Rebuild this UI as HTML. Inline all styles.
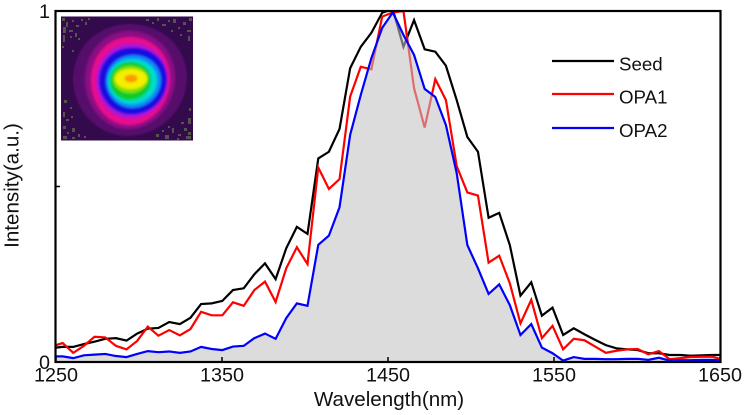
<!DOCTYPE html>
<html>
<head>
<meta charset="utf-8">
<title>Spectrum chart</title>
<style>
html,body{margin:0;padding:0;background:#fff;}
#wrap{position:relative;width:744px;height:415px;overflow:hidden;background:#fff;}
svg{position:absolute;left:0;top:0;}
text{font-family:"Liberation Sans",Arial,sans-serif;fill:#111;}
</style>
</head>
<body>
<div id="wrap">
<svg id="chart" width="744" height="415" viewBox="0 0 744 415">
<defs>
<clipPath id="plot-clip"><rect x="56" y="11" width="664" height="351"/></clipPath>
<filter id="soft" x="-10%" y="-10%" width="120%" height="120%"><feGaussianBlur stdDeviation="1"/></filter>
<clipPath id="inset-clip"><rect x="61" y="16.5" width="132" height="124"/></clipPath>
<path id="blob" d="M0 -1 C.55 -1 1 -.6 1 -.05 C1 .5 .55 1 -.05 1 C-.6 1 -1 .5 -1 0 C-1 -.6 -.55 -1 0 -1Z"/>
</defs>
<g id="series-under" clip-path="url(#plot-clip)"></g>
<g id="series-over" clip-path="url(#plot-clip)"></g>
<g id="inset" clip-path="url(#inset-clip)">
<rect x="61" y="16.5" width="132" height="124" fill="#330a4c"/>
<g filter="url(#soft)">
<use href="#blob" transform="translate(130 80) scale(57 56)" fill="#560a6c"/>
<use href="#blob" transform="translate(130 80) scale(45 49)" fill="#8c0c84"/>
<use href="#blob" transform="translate(130.5 81) scale(39.5 44)" fill="#e8108e"/>
<use href="#blob" transform="translate(132 81) scale(36 37.5)" fill="#a812d8"/>
<use href="#blob" transform="translate(133 81) scale(34 33.5)" fill="#1410e0"/>
<use href="#blob" transform="translate(133.5 81.5) scale(27.5 26.5)" fill="#0a8cf8"/>
<use href="#blob" transform="translate(132.5 81.5) scale(24.5 22.5)" fill="#06dcc8"/>
<use href="#blob" transform="translate(130.5 81) scale(20.5 19)" fill="#08cc2c"/>
<use href="#blob" transform="translate(130.5 79.5) scale(17.5 13.5)" fill="#86e000"/>
<use href="#blob" transform="translate(131 79) scale(16 10)" fill="#f4ee00"/>
<ellipse cx="131" cy="78.5" rx="6.5" ry="4" fill="#ff9a00"/>
</g>
<path fill="#55544e" d="M62 18h3v3h-3zM66 22h2v5h-2zM69 30h4v2h-4zM63 27h3v6h-3zM63 35h2v7h-2zM72 20h2v2h-2zM76 25h3v2h-3zM81 19h2v2h-2zM85 22h2v3h-2zM88 18h2v2h-2zM70 36h2v2h-2zM75 33h2v4h-2zM78 38h2v2h-2zM62 46h2v2h-2zM72 50h2v2h-2zM146 19h3v2h-3zM152 22h2v2h-2zM157 18h2v3h-2zM162 24h4v2h-4zM168 20h2v2h-2zM173 19h3v4h-3zM178 27h2v2h-2zM183 22h3v3h-3zM187 30h4v2h-4zM189 18h3v3h-3zM180 34h2v2h-2zM171 30h2v2h-2zM188 36h2v5h-2zM63 126h3v3h-3zM67 132h2v2h-2zM63 112h2v5h-2zM66 119h3v2h-3zM72 128h3v4h-3zM78 134h2v3h-2zM63 136h4v3h-4zM72 137h3v2h-3zM84 136h2v2h-2zM71 116h2v2h-2zM64 100h3v3h-3zM70 107h2v2h-2zM156 134h3v3h-3zM162 130h2v2h-2zM165 135h4v4h-4zM172 128h2v5h-2zM178 134h3v2h-3zM184 128h3v3h-3zM188 118h3v6h-3zM181 122h3v2h-3zM177 138h2v2h-2zM188 132h3v3h-3zM168 126h2v2h-2zM189 108h2v3h-2zM186 136h5v3h-5z"/>
</g>
<g id="axes"></g>
<g id="legend">
<line x1="552" x2="614" y1="61" y2="61" stroke="#000" stroke-width="2.2"/>
<text x="619" y="70.5" font-size="18.7">Seed</text>
<line x1="552" x2="614" y1="94" y2="94" stroke="#f00" stroke-width="2.2"/>
<text x="619" y="103.5" font-size="18.7">OPA1</text>
<line x1="552" x2="614" y1="128" y2="128" stroke="#00f" stroke-width="2.2"/>
<text x="619" y="137" font-size="18.7">OPA2</text>
</g>
<text x="389" y="406" font-size="20.6" text-anchor="middle">Wavelength(nm)</text>
<text transform="translate(18.5 185.5) rotate(-90)" font-size="20.6" text-anchor="middle">Intensity(a.u.)</text>
</svg>
</div>
<script>
const wavelengths = [1250,1254.0,1260.4,1266.8,1273.2,1279.7,1286.1,1292.5,1298.9,1305.3,1311.7,
1318.2,1324.6,1331.0,1337.4,1343.8,1350.2,1356.6,1363.1,1369.5,1375.9,
1382.3,1388.7,1395.1,1401.5,1408.0,1414.4,1420.8,1427.2,1433.6,1440.0,
1446.5,1452.9,1459.3,1465.7,1472.1,1478.5,1484.9,1491.4,1497.8,1504.2,
1510.6,1517.0,1523.4,1529.8,1536.3,1542.7,1549.1,1555.5,1561.9,1568.3,
1574.8,1581.2,1587.6,1594.0,1600.4,1606.8,1613.2,1619.7,1626.1,1632.5,
1638.9,1645.3,1650];
const seedValues = [.041,.043,.043,.051,.058,.066,.068,.061,.081,.095,.097,
.114,.108,.126,.165,.167,.174,.205,.210,.250,.281,
.236,.324,.385,.365,.580,.599,.664,.837,.898,.938,
.995,1.005,.898,.974,.891,.884,.844,.746,.641,.599,
.411,.425,.333,.189,.227,.132,.155,.077,.096,.079,
.063,.048,.039,.036,.034,.025,.025,.020,.020,.018,
.019,.020,.020];
const opa1Values = [.048,.054,.026,.046,.072,.070,.046,.036,.060,.101,.075,
.091,.076,.094,.143,.133,.133,.170,.160,.205,.229,
.171,.267,.327,.279,.554,.493,.521,.756,.841,.834,
.984,.996,1.000,.780,.668,.806,.746,.558,.483,.474,
.283,.303,.224,.110,.177,.068,.103,.036,.066,.062,
.044,.026,.032,.036,.037,.022,.031,.008,.011,.014,
.015,.015,.009];
const opa2Values = [.016,.016,.011,.019,.021,.023,.017,.014,.023,.031,.028,
.030,.026,.030,.043,.037,.034,.044,.046,.068,.081,
.066,.125,.167,.160,.334,.360,.441,.647,.761,.866,
.952,.996,.932,.875,.778,.755,.675,.538,.333,.267,
.194,.221,.162,.077,.108,.041,.025,.004,.014,.009,
.009,.008,.008,.009,.009,.006,.012,.004,.005,.005,
.006,.006,.005];
const xTickValues = [1250,1350,1450,1550,1650];
const yTickValues = [0,0.5,1];
const yTickLabels = ["0","","1"];

const NS = "http://www.w3.org/2000/svg";
function xScale(w){ return 56 + (w - 1250) * 1.66; }
function yScale(v){ return 362 - v * 351; }
function make(tag, attrs, parent){
  const el = document.createElementNS(NS, tag);
  for (const k in attrs) el.setAttribute(k, attrs[k]);
  parent.appendChild(el);
  return el;
}
function linePoints(values){
  return values.map((v,i)=>xScale(wavelengths[i]).toFixed(2)+","+yScale(v).toFixed(2)).join(" ");
}
const under = document.getElementById("series-under");
const over = document.getElementById("series-over");
const axes = document.getElementById("axes");

const seedLine = make("polyline",{points:linePoints(seedValues),fill:"none",stroke:"#000","stroke-width":2.2,"stroke-linejoin":"miter"},under);


const opa1Line = make("polyline",{points:linePoints(opa1Values),fill:"none",stroke:"#f00","stroke-width":2.2,"stroke-linejoin":"miter"},under);


const areaPts = xScale(wavelengths[0]).toFixed(2)+","+yScale(0)+" "+linePoints(opa2Values)+" "+xScale(wavelengths[wavelengths.length-1]).toFixed(2)+","+yScale(0);
const opa2Area = make("polygon",{points:areaPts,fill:"rgb(193,193,193)","fill-opacity":0.57},over);


const opa2Line = make("polyline",{points:linePoints(opa2Values),fill:"none",stroke:"#00f","stroke-width":2.2,"stroke-linejoin":"miter"},over);



const frame = make("rect",{x:55.5,y:11,width:665,height:351,fill:"none",stroke:"#000","stroke-width":2.2},axes);



xTickValues.forEach(function(w){
  const x = xScale(w);
  const tick = make("line",{x1:x,x2:x,y1:362,y2:357,stroke:"#000","stroke-width":1.5},axes);
  
  
  const label = make("text",{x:x,y:381.5,"font-size":19.8,"text-anchor":"middle"},axes);
  label.textContent = String(w);
  
  
});
yTickValues.forEach(function(v,i){
  const y = yScale(v);
  const tick = make("line",{x1:56,x2:60,y1:y,y2:y,stroke:"#000","stroke-width":1.5},axes);
  
  
  if (yTickLabels[i]) {
    const label = make("text",{x:50,y:y+7,"font-size":19.8,"text-anchor":"end"},axes);
    label.textContent = yTickLabels[i];
    
    
  }
});
</script>
</body>
</html>
